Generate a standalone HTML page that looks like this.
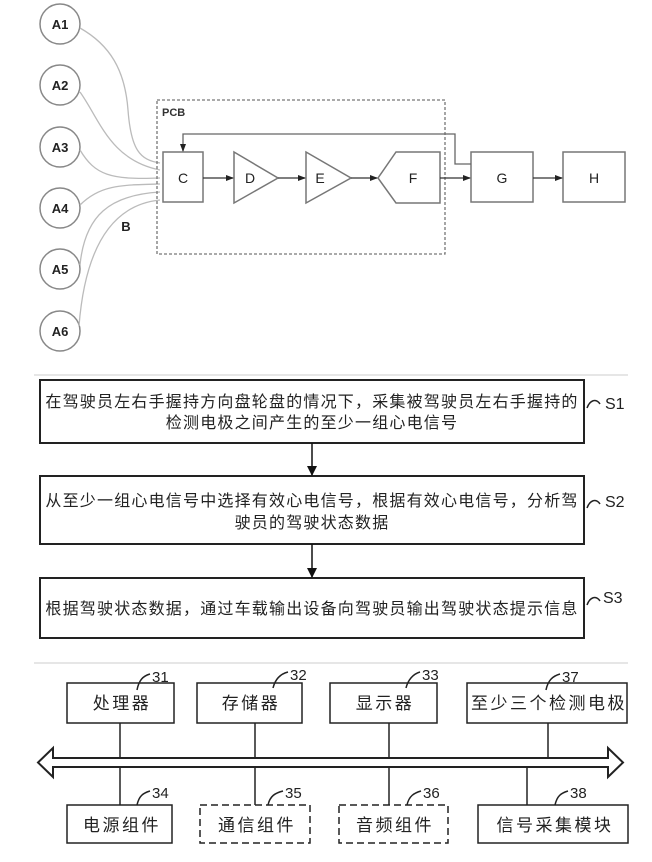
<!DOCTYPE html>
<html><head><meta charset="utf-8"><style>
html,body{margin:0;padding:0;background:#fff;}
svg{display:block;}
text{font-family:"Liberation Sans","Noto Sans CJK SC",sans-serif;}
.cn{font-family:"Liberation Serif","Noto Serif CJK SC","Noto Sans CJK SC",serif;font-size:16px;letter-spacing:1.2px;fill:#222;}
.cb{font-family:"Liberation Serif","Noto Serif CJK SC","Noto Sans CJK SC",serif;font-size:17px;letter-spacing:2.5px;fill:#222;}
.lt{font-family:"Liberation Sans",sans-serif;font-weight:bold;font-size:13px;fill:#222;}
</style></head><body>
<svg width="652" height="862" viewBox="0 0 652 862" xmlns="http://www.w3.org/2000/svg">
<defs>
<marker id="ah" markerWidth="8" markerHeight="8" refX="7" refY="4" orient="auto" markerUnits="userSpaceOnUse"><path d="M0,1 L8,4 L0,7 Z" fill="#222"/></marker>
<marker id="ah2" markerWidth="10" markerHeight="10" refX="9" refY="5" orient="auto" markerUnits="userSpaceOnUse"><path d="M0,0 L10,5 L0,10 Z" fill="#111"/></marker>
</defs>
<g fill="none" stroke="#888" stroke-width="1.5">
<circle cx="60" cy="24" r="20"/><circle cx="60" cy="85" r="20"/><circle cx="60" cy="147" r="20"/>
<circle cx="60" cy="208" r="20"/><circle cx="60" cy="269" r="20"/><circle cx="60" cy="331" r="20"/>
</g>
<g fill="none" stroke="#bbb" stroke-width="1.3">
<path d="M80,28 C110,45 125,70 128,110 C131,150 140,160 160,163"/>
<path d="M80,92 C100,120 110,160 160,170"/>
<path d="M80,150 C95,175 110,180 160,178"/>
<path d="M80,205 C100,185 120,185 160,184"/>
<path d="M80,265 C85,215 110,195 160,192"/>
<path d="M79,326 C85,250 110,205 160,200"/>
</g>
<g class="lt" text-anchor="middle">
<text x="60" y="29">A1</text><text x="60" y="90">A2</text><text x="60" y="152">A3</text>
<text x="60" y="213">A4</text><text x="60" y="274">A5</text><text x="60" y="336">A6</text>
<text x="126" y="231">B</text>
</g>
<rect x="157" y="100" width="288" height="154" fill="none" stroke="#777" stroke-width="1.3" stroke-dasharray="3,2"/>
<text x="162" y="116" style="font-size:11px;font-weight:bold;fill:#333">PCB</text>
<g fill="#fff" stroke="#777" stroke-width="1.5">
<rect x="163" y="152" width="40" height="50"/>
<path d="M234,152 L278,178 L234,203 Z"/>
<path d="M306,152 L351,178 L306,203 Z"/>
<path d="M396,152 L440,152 L440,203 L396,203 L378,178 Z"/>
<rect x="471" y="152" width="62" height="50"/>
<rect x="563" y="152" width="62" height="50"/>
</g>
<g stroke="#333" stroke-width="1.3" fill="none">
<path d="M203,178 L233,178" marker-end="url(#ah)"/>
<path d="M278,178 L305,178" marker-end="url(#ah)"/>
<path d="M351,178 L377,178" marker-end="url(#ah)"/>
<path d="M440,178 L470,178" marker-end="url(#ah)"/>
<path d="M533,178 L562,178" marker-end="url(#ah)"/>
<path d="M471,164 L455,164 L455,134 L183,134 L183,151" marker-end="url(#ah)" stroke="#666"/>
</g>
<g class="lt" text-anchor="middle" style="font-weight:normal;font-size:14px">
<text x="183" y="183">C</text><text x="250" y="183">D</text><text x="320" y="183">E</text>
<text x="413" y="183">F</text><text x="502" y="183">G</text><text x="594" y="183">H</text>
</g>
<line x1="34" y1="375" x2="628" y2="375" stroke="#ccc" stroke-width="1"/>
<line x1="34" y1="663" x2="628" y2="663" stroke="#ccc" stroke-width="1"/>
<g fill="none" stroke="#222" stroke-width="2">
<rect x="40" y="380" width="544" height="63"/>
<rect x="40" y="476" width="544" height="68"/>
<rect x="40" y="578" width="544" height="60"/>
</g>
<g stroke="#111" stroke-width="1.5">
<line x1="312" y1="443" x2="312" y2="475" marker-end="url(#ah2)"/>
<line x1="312" y1="544" x2="312" y2="577" marker-end="url(#ah2)"/>
</g>
<g class="cn" text-anchor="middle">
<text x="312" y="407">在驾驶员左右手握持方向盘轮盘的情况下，采集被驾驶员左右手握持的</text>
<text x="312" y="428">检测电极之间产生的至少一组心电信号</text>
<text x="312" y="506">从至少一组心电信号中选择有效心电信号，根据有效心电信号，分析驾</text>
<text x="312" y="528">驶员的驾驶状态数据</text>
<text x="312" y="614">根据驾驶状态数据，通过车载输出设备向驾驶员输出驾驶状态提示信息</text>
</g>
<g fill="none" stroke="#222" stroke-width="1.5">
<path d="M587,408 C590,400 596,398 600,404"/>
<path d="M587,508 C590,500 596,498 600,504"/>
<path d="M587,605 C590,597 596,595 600,601"/>
</g>
<g style="font-family:'Liberation Serif',serif;font-size:16px;fill:#222">
<text x="605" y="409">S1</text><text x="605" y="507">S2</text><text x="603" y="603">S3</text>
</g>
<g fill="none" stroke="#222" stroke-width="1.5">
<rect x="67" y="683" width="107" height="40"/>
<rect x="197" y="683" width="105" height="40"/>
<rect x="330" y="683" width="107" height="40"/>
<rect x="467" y="683" width="160" height="40"/>
<rect x="67" y="805" width="105" height="38"/>
<rect x="200" y="805" width="110" height="38" stroke-dasharray="7,4"/>
<rect x="339" y="805" width="109" height="38" stroke-dasharray="7,4"/>
<rect x="478" y="805" width="150" height="38"/>
<line x1="120" y1="723" x2="120" y2="758"/><line x1="255" y1="723" x2="255" y2="758"/>
<line x1="389" y1="723" x2="389" y2="758"/><line x1="548" y1="723" x2="548" y2="758"/>
<line x1="120" y1="767" x2="120" y2="805"/><line x1="255" y1="767" x2="255" y2="805"/>
<line x1="389" y1="767" x2="389" y2="805"/><line x1="527" y1="767" x2="527" y2="805"/>
<path d="M53,758 L608,758 L608,748 L623,762.5 L608,777 L608,767 L53,767 L53,777 L38,762.5 L53,748 Z" stroke-width="2"/>
<path d="M137,690 C139,680 143,676 150,674"/>
<path d="M273,688 C275,680 280,674 288,672"/>
<path d="M406,688 C408,680 413,674 420,672"/>
<path d="M546,690 C548,680 553,676 560,674"/>
<path d="M137,805 C139,796 143,793 150,791"/>
<path d="M268,805 C270,796 275,793 283,791"/>
<path d="M407,805 C409,796 414,793 421,791"/>
<path d="M555,805 C557,796 561,793 568,791"/>
</g>
<g style="font-family:'Liberation Serif',serif;font-size:15px;fill:#222">
<text x="152" y="682">31</text><text x="290" y="680">32</text><text x="422" y="680">33</text><text x="562" y="682">37</text>
<text x="152" y="798">34</text><text x="285" y="798">35</text><text x="423" y="798">36</text><text x="570" y="798">38</text>
</g>
<g class="cb" text-anchor="middle">
<text x="122" y="709">处理器</text><text x="251" y="709">存储器</text><text x="385" y="709">显示器</text><text x="549" y="709">至少三个检测电极</text>
<text x="122" y="831">电源组件</text><text x="257" y="831">通信组件</text><text x="395" y="831">音频组件</text><text x="555" y="831">信号采集模块</text>
</g>
</svg>
</body></html>
